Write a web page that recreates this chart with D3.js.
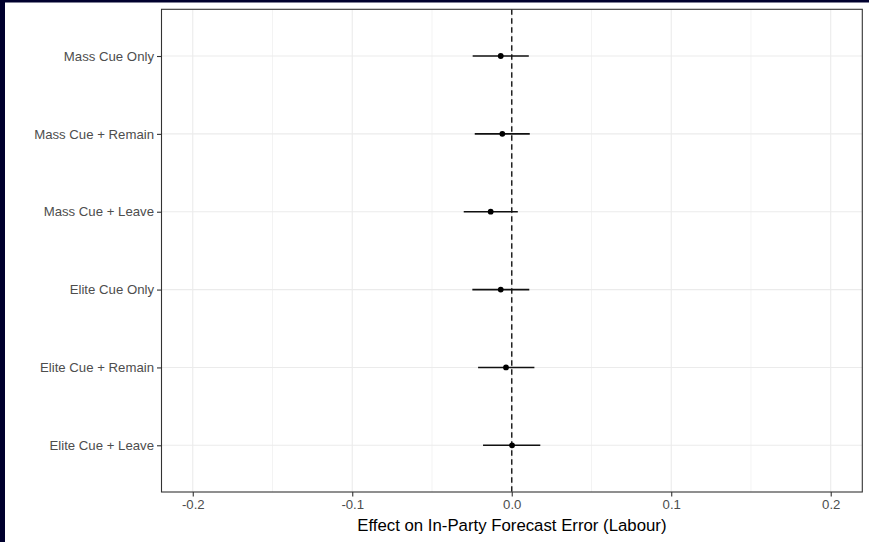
<!DOCTYPE html>
<html><head><meta charset="utf-8">
<script src="https://cdn.jsdelivr.net/npm/d3@7"></script>
<style>html,body{margin:0;padding:0;background:#fff;}svg{display:block;}</style>
</head><body>
<script>
const categories = ["Mass Cue Only","Mass Cue + Remain","Mass Cue + Leave","Elite Cue Only","Elite Cue + Remain","Elite Cue + Leave"];
const estimates = [-0.0069,-0.0059,-0.0132,-0.0069,-0.0036,0.0002];
const lower = [-0.0245,-0.0232,-0.0301,-0.0247,-0.0211,-0.0180];
const upper = [0.0107,0.0113,0.0038,0.0110,0.0142,0.0179];
const xTicks = [-0.2,-0.1,0.0,0.1,0.2];
const xMinor = [-0.15,-0.05,0.05,0.15];
const xTitle = "Effect on In-Party Forecast Error (Labour)";

const W=869,H=542;
const svg=d3.select("body").append("svg").attr("width",W).attr("height",H);
svg.append("rect").attr("width",W).attr("height",H).attr("fill","#fff");
svg.append("rect").attr("x",0).attr("y",0).attr("width",W).attr("height",2.5).attr("fill","#00002e");
svg.append("rect").attr("x",0).attr("y",0).attr("width",5).attr("height",H).attr("fill","#00002e");

const L=161.5,R=862.3,T=9.3,B=492;
const x=d3.scaleLinear().domain([-0.2196,0.2198]).range([L,R]);
const y=d3.scalePoint().domain(categories).range([T,B]).padding(0.6);

const g=svg.append("g");
g.selectAll(".minor").data(xMinor).join("line")
 .attr("x1",d=>x(d)).attr("x2",d=>x(d)).attr("y1",T).attr("y2",B)
 .attr("stroke","#EBEBEB").attr("stroke-width",0.6);
g.selectAll(".major").data(xTicks).join("line")
 .attr("x1",d=>x(d)).attr("x2",d=>x(d)).attr("y1",T).attr("y2",B)
 .attr("stroke","#EBEBEB").attr("stroke-width",1.1);
g.selectAll(".hmaj").data(categories).join("line")
 .attr("x1",L).attr("x2",R).attr("y1",d=>y(d)).attr("y2",d=>y(d))
 .attr("stroke","#EBEBEB").attr("stroke-width",1.1);

g.append("line").attr("x1",x(0)).attr("x2",x(0)).attr("y1",T).attr("y2",B)
 .attr("stroke","#222").attr("stroke-width",1.5).attr("stroke-dasharray","5.5,3.5");

g.selectAll(".ci").data(categories).join("line")
 .attr("x1",(d,i)=>x(lower[i])).attr("x2",(d,i)=>x(upper[i]))
 .attr("y1",d=>y(d)).attr("y2",d=>y(d))
 .attr("stroke","#111").attr("stroke-width",1.6);
g.selectAll(".pt").data(categories).join("circle")
 .attr("cx",(d,i)=>x(estimates[i])).attr("cy",d=>y(d)).attr("r",2.9).attr("fill","#000");

svg.append("rect").attr("x",L).attr("y",T).attr("width",R-L).attr("height",B-T)
 .attr("fill","none").attr("stroke","#333").attr("stroke-width",1.1);

const xa=svg.append("g").attr("transform",`translate(0,${B})`)
 .call(d3.axisBottom(x).tickValues(xTicks).tickSize(4.5).tickPadding(3).tickFormat(d=>d3.format(".1f")(d)));
const ya=svg.append("g").attr("transform",`translate(${L},0)`)
 .call(d3.axisLeft(y).tickSize(4.5).tickPadding(3));
[xa,ya].forEach(a=>{
  a.select(".domain").remove();
  a.selectAll(".tick line").attr("stroke","#333").attr("stroke-width",1.1);
  a.selectAll(".tick text").attr("fill","#4D4D4D").style("font-family","Liberation Sans, Arial, sans-serif").style("font-size","13.2px");
});
xa.selectAll(".tick text").text(d=>d3.format(".1f")(d).replace("−","-"));

svg.append("text").attr("x",(L+R)/2).attr("y",531)
 .attr("text-anchor","middle").attr("fill","#000")
 .style("font-family","Liberation Sans, Arial, sans-serif").style("font-size","16.8px")
 .text(xTitle);
</script>
</body></html>
